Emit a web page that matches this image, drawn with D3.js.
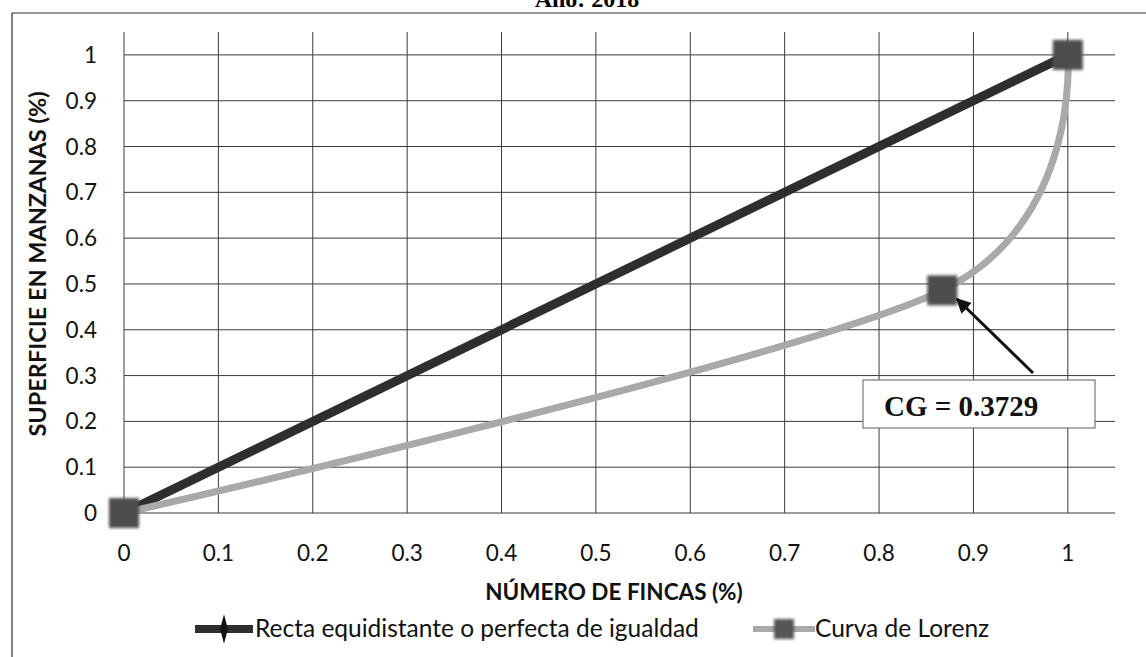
<!DOCTYPE html>
<html><head><meta charset="utf-8">
<script src="https://cdn.jsdelivr.net/npm/d3@7"></script>
<style>html,body{margin:0;padding:0;background:#fff;}svg{display:block;}</style>
</head><body>
<svg id="chart" width="1146" height="657"></svg>
<script>
// ---- data ----
const equalityX = [0, 1];
const equalityY = [0, 1];
const lorenzX = [0, 0.867, 1];
const lorenzY = [0, 0.486, 1];
const xTicks = [0, 0.1, 0.2, 0.3, 0.4, 0.5, 0.6, 0.7, 0.8, 0.9, 1];
const yTicks = [0, 0.1, 0.2, 0.3, 0.4, 0.5, 0.6, 0.7, 0.8, 0.9, 1];
const titleText = "Año: 2018";
const xTitle = "NÚMERO DE FINCAS (%)";
const yTitle = "SUPERFICIE EN MANZANAS (%)";
const legendLabels = ["Recta equidistante o perfecta de igualdad", "Curva de Lorenz"];
const annotationText = "CG = 0.3729";

const svg = d3.select("#chart");
const defs = svg.append("defs");
defs.append("filter").attr("id","fuzz").attr("x","-50%").attr("y","-50%").attr("width","200%").attr("height","200%")
  .append("feGaussianBlur").attr("stdDeviation", 1.8);
const mk = defs.append("marker").attr("id","arrow").attr("viewBox","0 0 10 10").attr("refX",9).attr("refY",5)
  .attr("markerWidth",5).attr("markerHeight",5).attr("orient","auto-start-reverse");
mk.append("path").attr("d","M0,0 L10,5 L0,10 z").attr("fill","#111");

const x = d3.scaleLinear().domain([0, 1.05]).range([124, 1115]);
const y = d3.scaleLinear().domain([0, 1.05]).range([513, 32]);

// outer frame
svg.append("path").attr("d","M12,657 L12,13 L1146,13").attr("fill","none").attr("stroke","#333").attr("stroke-width",1.2);

// title (partly cut at the top edge, as in the reference)
svg.append("text").attr("x", 587).attr("y", 7).attr("text-anchor","middle")
  .attr("font-family","Liberation Serif, serif").attr("font-weight","bold").attr("font-size",24).text(titleText);

// gridlines
const grid = svg.append("g").attr("stroke","#3a3a3a").attr("stroke-width",1);
xTicks.forEach(t => grid.append("line").attr("x1",x(t)).attr("x2",x(t)).attr("y1",y(0)).attr("y2",y(1.05)));
yTicks.forEach(t => grid.append("line").attr("x1",x(0)).attr("x2",x(1.05)).attr("y1",y(t)).attr("y2",y(t)));

// tick labels
const fmt = d => d === 0 ? "0" : d === 1 ? "1" : d3.format(".1f")(d);
const tf = "Lato, 'Open Sans', sans-serif";
svg.append("g").selectAll("text").data(xTicks).join("text")
  .attr("x", d => x(d)).attr("y", 561).attr("text-anchor","middle")
  .attr("font-family", tf).attr("font-size",22.5).attr("fill","#111").text(fmt);
svg.append("g").selectAll("text").data(yTicks).join("text")
  .attr("x", 97).attr("y", d => y(d) + 8).attr("text-anchor","end")
  .attr("font-family", tf).attr("font-size",22.5).attr("fill","#111").text(fmt);

// axis titles
svg.append("text").attr("x", 614).attr("y", 600).attr("text-anchor","middle")
  .attr("font-family", tf).attr("font-weight","bold").attr("font-size",22.5).attr("fill","#111").text(xTitle);
svg.append("text").attr("transform","translate(46,264) rotate(-90)").attr("text-anchor","middle")
  .attr("font-family", tf).attr("font-weight","bold").attr("font-size",23.5).attr("fill","#111").text(yTitle);

// lines
const eqPts = equalityX.map((v,i)=>[v, equalityY[i]]);
const loPts = lorenzX.map((v,i)=>[v, lorenzY[i]]);
const straight = d3.line().x(d=>x(d[0])).y(d=>y(d[1]));
const smooth = d3.line().x(d=>x(d[0])).y(d=>y(d[1])).curve(d3.curveCardinal.tension(0.12));

svg.append("path").attr("d", straight(eqPts)).attr("fill","none").attr("stroke","#2e2e2e").attr("stroke-width",9);
svg.append("path").attr("d", smooth(loPts)).attr("fill","none").attr("stroke","#a9a9a9").attr("stroke-width",7);

// equality markers (diamonds, mostly hidden)
svg.append("g").selectAll("path").data(eqPts).join("path")
  .attr("d", d3.symbol().type(d3.symbolDiamond).size(200))
  .attr("transform", d => `translate(${x(d[0])},${y(d[1])})`).attr("fill","#222");
// lorenz markers
svg.append("g").selectAll("rect").data(loPts).join("rect")
  .attr("x", d => x(d[0]) - 15).attr("y", d => y(d[1]) - 15).attr("width",30).attr("height",30)
  .attr("fill","#4d4d4d").attr("filter","url(#fuzz)");

// annotation
svg.append("line").attr("x1",1033).attr("y1",373).attr("x2",957).attr("y2",299)
  .attr("stroke","#111").attr("stroke-width",3).attr("marker-end","url(#arrow)");
svg.append("rect").attr("x",863).attr("y",380).attr("width",232).attr("height",48)
  .attr("fill","#fff").attr("stroke","#777").attr("stroke-width",1.2);
svg.append("text").attr("x",884).attr("y",416)
  .attr("font-family","Liberation Serif, serif").attr("font-weight","bold").attr("font-size",29).attr("fill","#111").text(annotationText);

// legend
const lg = svg.append("g");
lg.append("line").attr("x1",195).attr("x2",253).attr("y1",629).attr("y2",629).attr("stroke","#2e2e2e").attr("stroke-width",8);
lg.append("path").attr("d", d3.symbol().type(d3.symbolDiamond).size(110)).attr("transform","translate(224,629) scale(0.7,1.5)").attr("fill","#111");
lg.append("text").attr("x",255).attr("y",637).attr("font-family",tf).attr("font-size",24.5).attr("fill","#111").text(legendLabels[0]);
lg.append("line").attr("x1",753).attr("x2",815).attr("y1",629).attr("y2",629).attr("stroke","#a9a9a9").attr("stroke-width",6);
lg.append("rect").attr("x",774).attr("y",619).attr("width",20).attr("height",20).attr("fill","#555").attr("filter","url(#fuzz)");
lg.append("text").attr("x",815).attr("y",637).attr("font-family",tf).attr("font-size",24.5).attr("fill","#111").text(legendLabels[1]);
</script>
</body></html>
